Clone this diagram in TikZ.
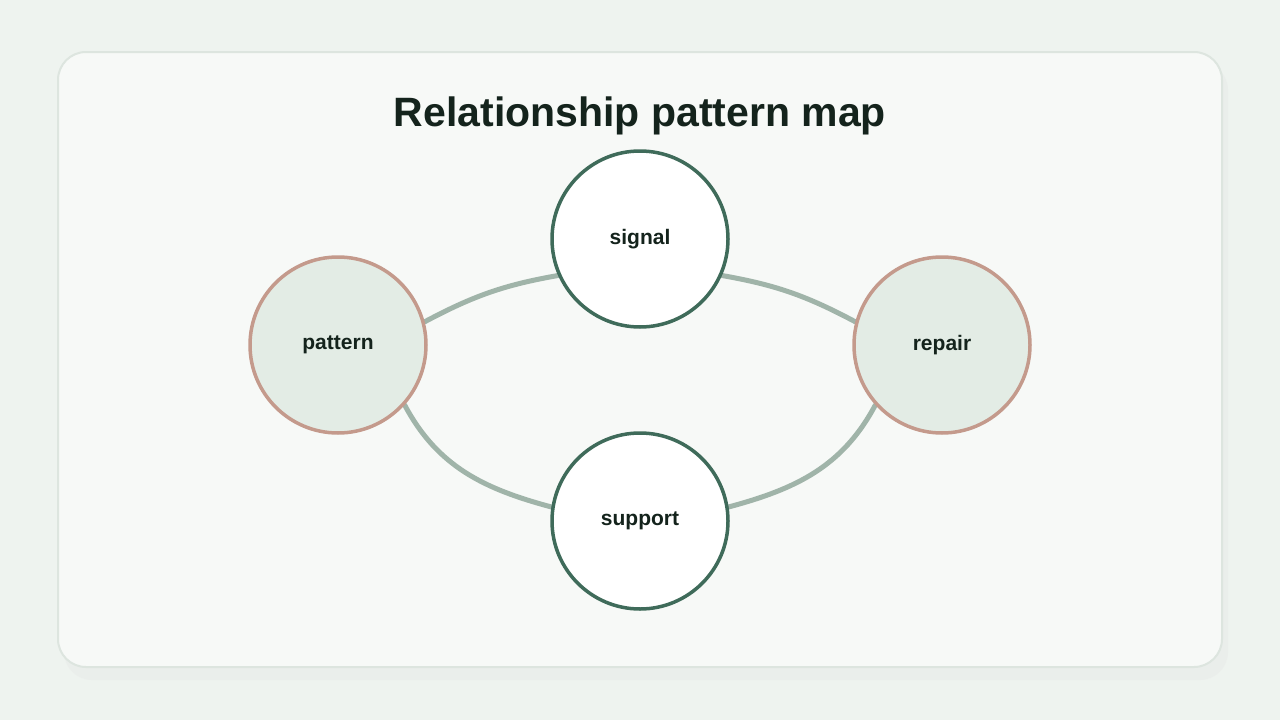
\documentclass[tikz,border=0pt]{standalone}
\usepackage{fontspec}
\setmainfont{Liberation Sans}
\usetikzlibrary{backgrounds}
\definecolor{bg}{HTML}{EEF3EF}
\definecolor{card}{HTML}{F7F9F7}
\definecolor{cardline}{HTML}{DDE5DF}
\definecolor{dgreen}{HTML}{3F6B5A}
\definecolor{pinkc}{HTML}{C49A8C}
\definecolor{pfill}{HTML}{E3ECE5}
\definecolor{link}{HTML}{A0B4A9}
\definecolor{ink}{HTML}{14231C}
\tikzset{
  x=1pt,y=-1pt,
  hub/.style={circle,minimum size=176pt,line width=3.5pt,draw=dgreen,fill=white,font=\bfseries\fontsize{21}{24}\selectfont,text=ink,yshift=-3pt},
  side/.style={hub,draw=pinkc,fill=pfill},
  conn/.style={line width=5pt,draw=link,line cap=round}
}
\begin{document}
\begin{tikzpicture}
\useasboundingbox (0,0) rectangle (1280,720);
\node[font=\bfseries\fontsize{41}{46}\selectfont,text=ink] (title) at (640,116) {Relationship pattern map};
\node[hub] (signal) at (640,236) {signal};
\node[side] (pattern) at (338,342) {pattern};
\node[side] (repair) at (942,342) {repair};
\node[hub] (support) at (640,518) {support};
\begin{scope}[on background layer]
\fill[bg] (0,0) rectangle (1280,720);
\fill[black!10,opacity=0.35,rounded corners=28pt] (64,62) rectangle (1228,680);
\filldraw[fill=card,draw=cardline,line width=2pt,rounded corners=28pt] (58,52) rectangle (1222,667);
\draw[conn] (pattern.15) to[out=28,in=190] (signal.204);
\draw[conn] (signal.-24) to[out=-10,in=152] (repair.165);
\draw[conn] (pattern.-42) to[out=-62,in=165] (support.171);
\draw[conn] (support.9) to[out=15,in=-118] (repair.-138);
\end{scope}
\end{tikzpicture}
\end{document}
